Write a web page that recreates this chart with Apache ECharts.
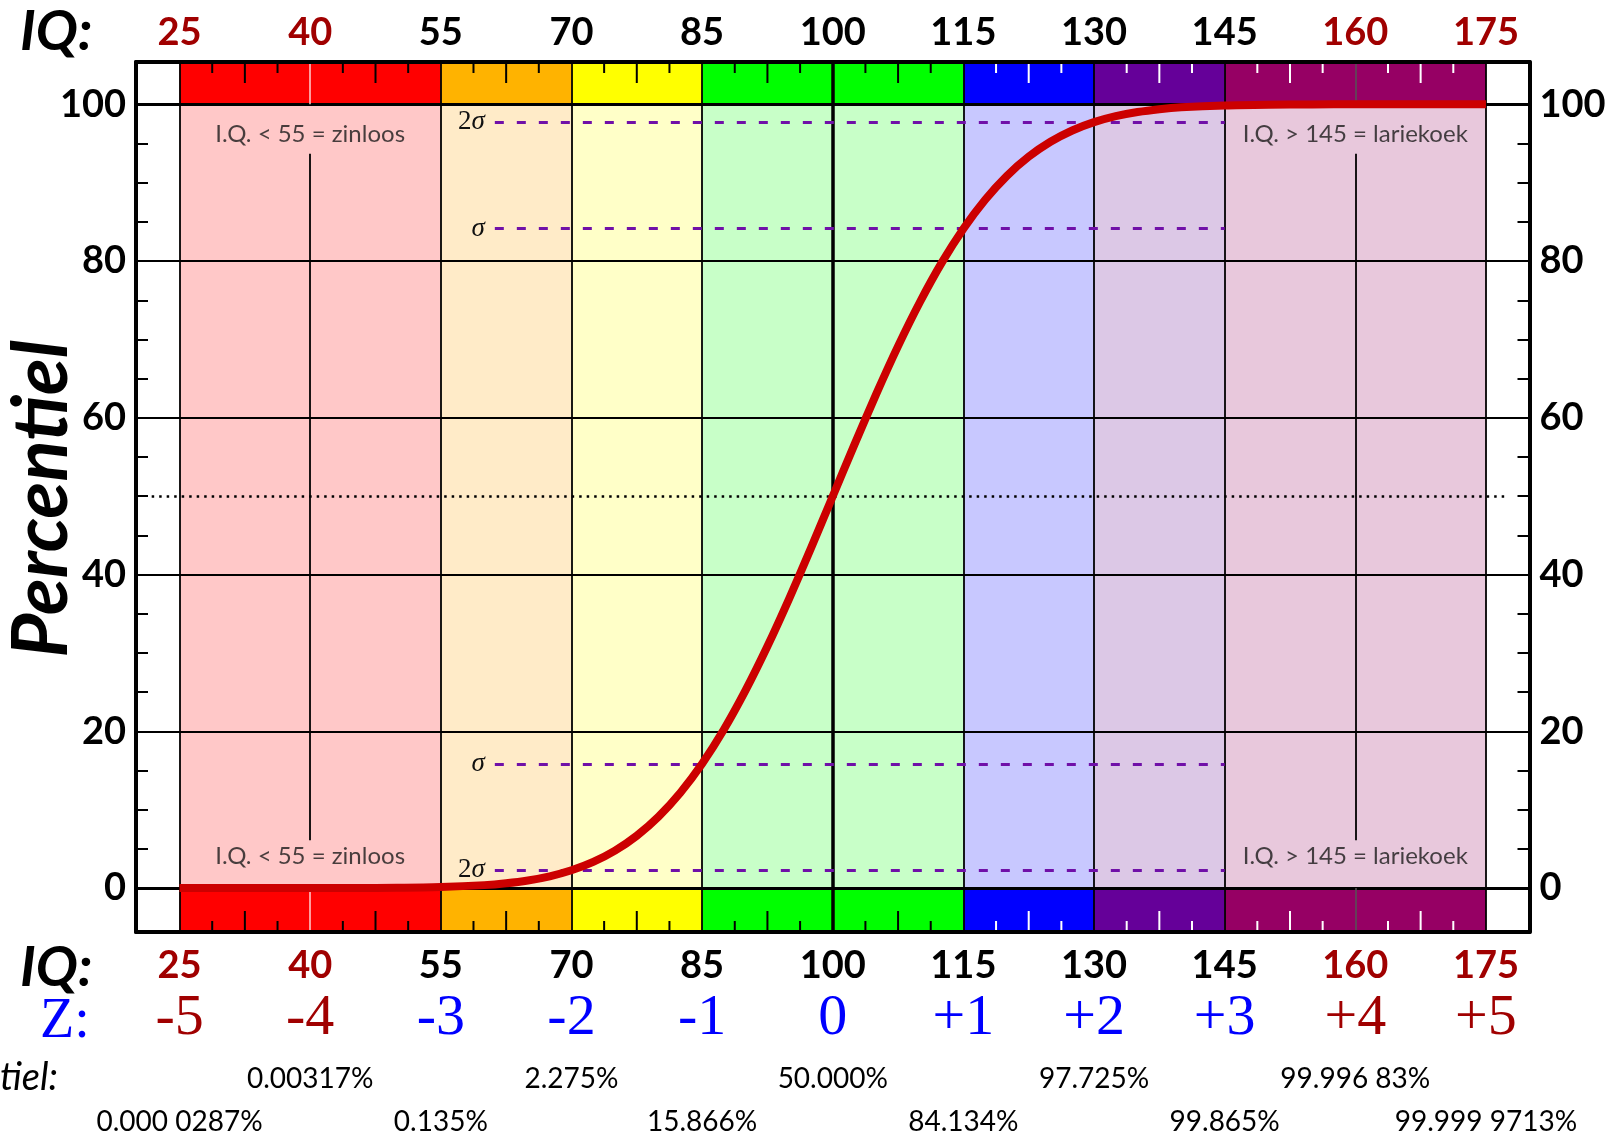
<!DOCTYPE html>
<html>
<head>
<meta charset="utf-8">
<title>IQ percentiel</title>
<script src="https://cdn.jsdelivr.net/npm/echarts@6/dist/echarts.min.js"></script>
<style>
  html, body { margin: 0; padding: 0; background: #fff; }
  #chart { width: 1610px; height: 1136px; }
</style>
</head>
<body>
<div id="chart"></div>
<script>
// axis ticks
const iqTicks = [25, 40, 55, 70, 85, 100, 115, 130, 145, 160, 175];
const zTickText = ['-5', '-4', '-3', '-2', '-1', '0', '+1', '+2', '+3', '+4', '+5'];
const percentTicks = [0, 20, 40, 60, 80, 100];
const percentMinorTicks = [5, 10, 15, 25, 30, 35, 45, 50, 55, 65, 70, 75, 85, 90, 95];

// colour bands (IQ ranges)
const bandStart = [25, 55, 70, 85, 115, 130, 145];
const bandEnd = [55, 70, 85, 115, 130, 145, 175];

// cumulative percentile curve
const curveIq = [25, 30, 35, 40, 45, 50, 55, 60, 62.5, 65, 67.5, 70, 72.5, 75, 77.5, 80, 82.5, 85,
  87.5, 90, 92.5, 95, 97.5, 100, 102.5, 105, 107.5, 110, 112.5, 115, 117.5, 120, 122.5, 125,
  127.5, 130, 132.5, 135, 137.5, 140, 145, 150, 155, 160, 165, 170, 175];
const curvePct = [0.00003, 0.0002, 0.0007, 0.003, 0.012, 0.04, 0.135, 0.38, 0.62, 0.98, 1.51, 2.275,
  3.34, 4.78, 6.68, 9.12, 12.17, 15.866, 20.23, 25.25, 30.85, 36.94, 43.38, 50, 56.62, 63.06,
  69.15, 74.75, 79.77, 84.134, 87.83, 90.88, 93.32, 95.22, 96.66, 97.725, 98.49, 99.02, 99.38,
  99.62, 99.865, 99.96, 99.99, 99.997, 99.9993, 99.9999, 99.99997];

// sigma reference lines
const sigmaLabel = ['2σ', 'σ', 'σ', '2σ'];
const sigmaPct = [97.725, 84.134, 15.866, 2.275];
const sigmaFromIq = 61.2;
const sigmaToIq = 145;

// percentile texts under the chart
const pctRow1Iq = [40, 70, 100, 130, 160];
const pctRow1Text = ['0.00317%', '2.275%', '50.000%', '97.725%', '99.996 83%'];
const pctRow2Iq = [25, 55, 85, 115, 145, 175];
const pctRow2Text = ['0.000 0287%', '0.135%', '15.866%', '84.134%', '99.865%', '99.999 9713%'];

// notes inside the plot
const noteIq = [40, 40, 160, 160];
const notePct = [96.2, 4.0, 96.2, 4.0];
const noteText = ['I.Q. < 55 = zinloos', 'I.Q. < 55 = zinloos', 'I.Q. > 145 = lariekoek', 'I.Q. > 145 = lariekoek'];

const X_MIN = 20, X_MAX = 180;
const Y_MIN = -5.6, Y_MAX = 105.4;

const strongColors = ['#FF0000', '#FFB300', '#FFFF00', '#00FF00', '#0000FF', '#650099', '#960064'];
const lightColors = ['#FFC8C8', '#FFEBC8', '#FFFFC8', '#C8FFC8', '#C8C8FF', '#DCC8E6', '#E8C8DC'];
const darkRed = '#A00000';

// quarter ticks inside the coloured strips
const stripTicks = [];
for (let i = 0; i < iqTicks.length - 1; i++) {
  const a = iqTicks[i], step = (iqTicks[i + 1] - a) / 4;
  stripTicks.push([a + step, 0], [a + 2 * step, 1], [a + 3 * step, 0]);
}

const chart = echarts.init(document.getElementById('chart'), null, { renderer: 'canvas' });

const baseX = { type: 'value', min: X_MIN, max: X_MAX, splitLine: { show: false }, z: 10 };

function iqAxis(position, margin) {
  return Object.assign({}, baseX, {
    position: position,
    axisLine: { onZero: false, lineStyle: { color: '#000', width: 4 } },
    axisTick: { show: false },
    axisLabel: {
      customValues: iqTicks, margin: margin,
      fontFamily: 'Lato', fontWeight: 'bold', fontSize: 38,
      color: v => (Number(v) < 50 || Number(v) > 150) ? darkRed : '#000'
    }
  });
}

function textAxis(offset, values, formatter, style) {
  return Object.assign({}, baseX, {
    position: 'bottom', offset: offset,
    axisLine: { show: false }, axisTick: { show: false },
    axisLabel: Object.assign({ customValues: values, margin: 8, formatter: formatter }, style)
  });
}

function percentAxis(position) {
  return {
    type: 'value', min: Y_MIN, max: Y_MAX, position: position, z: 10,
    splitLine: { show: false },
    axisLine: { onZero: false, lineStyle: { color: '#000', width: 4 } },
    axisTick: { customValues: percentMinorTicks, inside: true, length: 12, lineStyle: { color: '#000', width: 2 } },
    axisLabel: { customValues: percentTicks, margin: 10, fontFamily: 'Lato', fontWeight: 'bold', fontSize: 38, color: '#000' }
  };
}

const gridLines = [
  { yAxis: 0, lineStyle: { width: 3 } },
  { yAxis: 100, lineStyle: { width: 3 } }
];
[20, 40, 60, 80].forEach(v => gridLines.push({ yAxis: v, lineStyle: { width: 1.8 } }));
[25, 55, 70, 85, 115, 130, 145, 175].forEach(v => gridLines.push({ xAxis: v, lineStyle: { width: 1.8 } }));
gridLines.push({ xAxis: 100, lineStyle: { width: 3.5 } });
[40, 160].forEach(v => {
  gridLines.push([{ coord: [v, 6.1], lineStyle: { width: 1.8, color: '#000' } }, { coord: [v, 93.7] }]);
  const c = v === 40 ? '#FFD0D0' : '#555';
  gridLines.push([{ coord: [v, 100], lineStyle: { width: 1.5, color: c } }, { coord: [v, Y_MAX] }]);
  gridLines.push([{ coord: [v, Y_MIN], lineStyle: { width: 1.5, color: c } }, { coord: [v, 0] }]);
});

const refLines = sigmaPct.map((v, i) => [
  {
    coord: [sigmaFromIq, v],
    label: {
      show: true, position: 'start', distance: 10,
      formatter: sigmaLabel[i].length > 1 ? '{n|2}{s|σ}' : '{s|σ}',
      rich: {
        n: { fontFamily: 'Liberation Serif', fontSize: 27, color: '#111' },
        s: { fontFamily: 'Liberation Serif', fontStyle: 'italic', fontSize: 27, color: '#111' }
      }
    },
    lineStyle: { color: '#7010A8', width: 3.2, type: [9, 13] }
  },
  { coord: [sigmaToIq, v] }
]);
refLines.push([
  { coord: [21.8, 50], label: { show: false }, lineStyle: { color: '#000', width: 2.5, type: [2.5, 5] } },
  { coord: [177.4, 50] }
]);

const option = {
  animation: false,
  backgroundColor: '#fff',
  grid: { left: 136, right: 80.5, top: 62, bottom: 202, containLabel: false },
  xAxis: [
    iqAxis('bottom', 15),
    iqAxis('top', 10),
    textAxis(50, iqTicks, v => zTickText[iqTicks.indexOf(Number(v))], {
      fontFamily: 'Liberation Serif', fontSize: 58,
      color: v => (Number(v) < 50 || Number(v) > 150) ? darkRed : '#0000FF'
    }),
    textAxis(125, pctRow1Iq, v => pctRow1Text[pctRow1Iq.indexOf(Number(v))], {
      fontFamily: 'Lato', fontSize: 28, color: '#000'
    }),
    textAxis(168, pctRow2Iq, v => pctRow2Text[pctRow2Iq.indexOf(Number(v))], {
      fontFamily: 'Lato', fontSize: 28, color: '#000'
    })
  ],
  yAxis: [percentAxis('left'), percentAxis('right')],
  graphic: [
    { type: 'text', x: 20, y: 32, style: { text: 'IQ:', font: 'italic bold 56px Lato', fill: '#000', textVerticalAlign: 'middle' } },
    { type: 'text', x: 20, y: 968, style: { text: 'IQ:', font: 'italic bold 56px Lato', fill: '#000', textVerticalAlign: 'middle' } },
    { type: 'text', x: 40, y: 1022, style: { text: 'Z:', font: '56px "Liberation Serif"', fill: '#0000FF', textVerticalAlign: 'middle' } },
    { type: 'text', x: 58, y: 1078, style: { text: 'Percentiel:', font: 'italic 38px Lato', fill: '#000', textAlign: 'right', textVerticalAlign: 'middle' } },
    { type: 'text', x: 42, y: 499, rotation: Math.PI / 2, style: { text: 'Percentiel', font: 'italic bold 76px Lato', fill: '#000', textAlign: 'center', textVerticalAlign: 'middle' } }
  ],
  series: [
    {
      name: 'bands', type: 'custom', z: 1, silent: true,
      data: bandStart.map((s, i) => [s, bandEnd[i]]),
      renderItem: (params, api) => {
        const i = params.dataIndex;
        const a = api.coord([api.value(0), Y_MAX]);
        const b = api.coord([api.value(1), 100]);
        const c = api.coord([api.value(1), 0]);
        const d = api.coord([api.value(1), Y_MIN]);
        const w = b[0] - a[0];
        return {
          type: 'group', children: [
            { type: 'rect', shape: { x: a[0], y: a[1], width: w, height: b[1] - a[1] }, style: { fill: strongColors[i] } },
            { type: 'rect', shape: { x: a[0], y: b[1], width: w, height: c[1] - b[1] }, style: { fill: lightColors[i] } },
            { type: 'rect', shape: { x: a[0], y: c[1], width: w, height: d[1] - c[1] }, style: { fill: strongColors[i] } }
          ]
        };
      },
      markLine: {
        silent: true, z: 2, symbol: ['none', 'none'], label: { show: false },
        lineStyle: { color: '#000', type: 'solid', width: 1.8 },
        data: gridLines
      }
    },
    {
      name: 'strip ticks', type: 'custom', z: 3, silent: true,
      data: stripTicks,
      renderItem: (params, api) => {
        const x = api.value(0);
        const len = api.value(1) ? 21 : 11;
        const top = api.coord([x, Y_MAX]);
        const bot = api.coord([x, Y_MIN]);
        const col = x > 115 ? '#fff' : '#000';
        return {
          type: 'group', children: [
            { type: 'line', shape: { x1: top[0], y1: top[1], x2: top[0], y2: top[1] + len }, style: { stroke: col, lineWidth: 2 } },
            { type: 'line', shape: { x1: bot[0], y1: bot[1], x2: bot[0], y2: bot[1] - len }, style: { stroke: col, lineWidth: 2 } }
          ]
        };
      }
    },
    {
      name: 'Percentiel', type: 'line', z: 4, silent: true,
      data: curveIq.map((x, i) => [x, curvePct[i]]),
      smooth: 0.25,
      symbol: 'none',
      lineStyle: { color: '#CC0000', width: 8, join: 'round' },
      markLine: {
        silent: true, z: 3, symbol: ['none', 'none'],
        data: refLines
      }
    },
    {
      name: 'notes', type: 'scatter', z: 6, silent: true,
      symbolSize: 0,
      data: noteIq.map((x, i) => ({ value: [x, notePct[i]], name: noteText[i] })),
      label: { show: true, position: 'inside', formatter: '{b}', fontFamily: 'Lato', fontSize: 24, color: '#1a1a1a' }
    }
  ]
};

chart.setOption(option);
</script>
</body>
</html>
